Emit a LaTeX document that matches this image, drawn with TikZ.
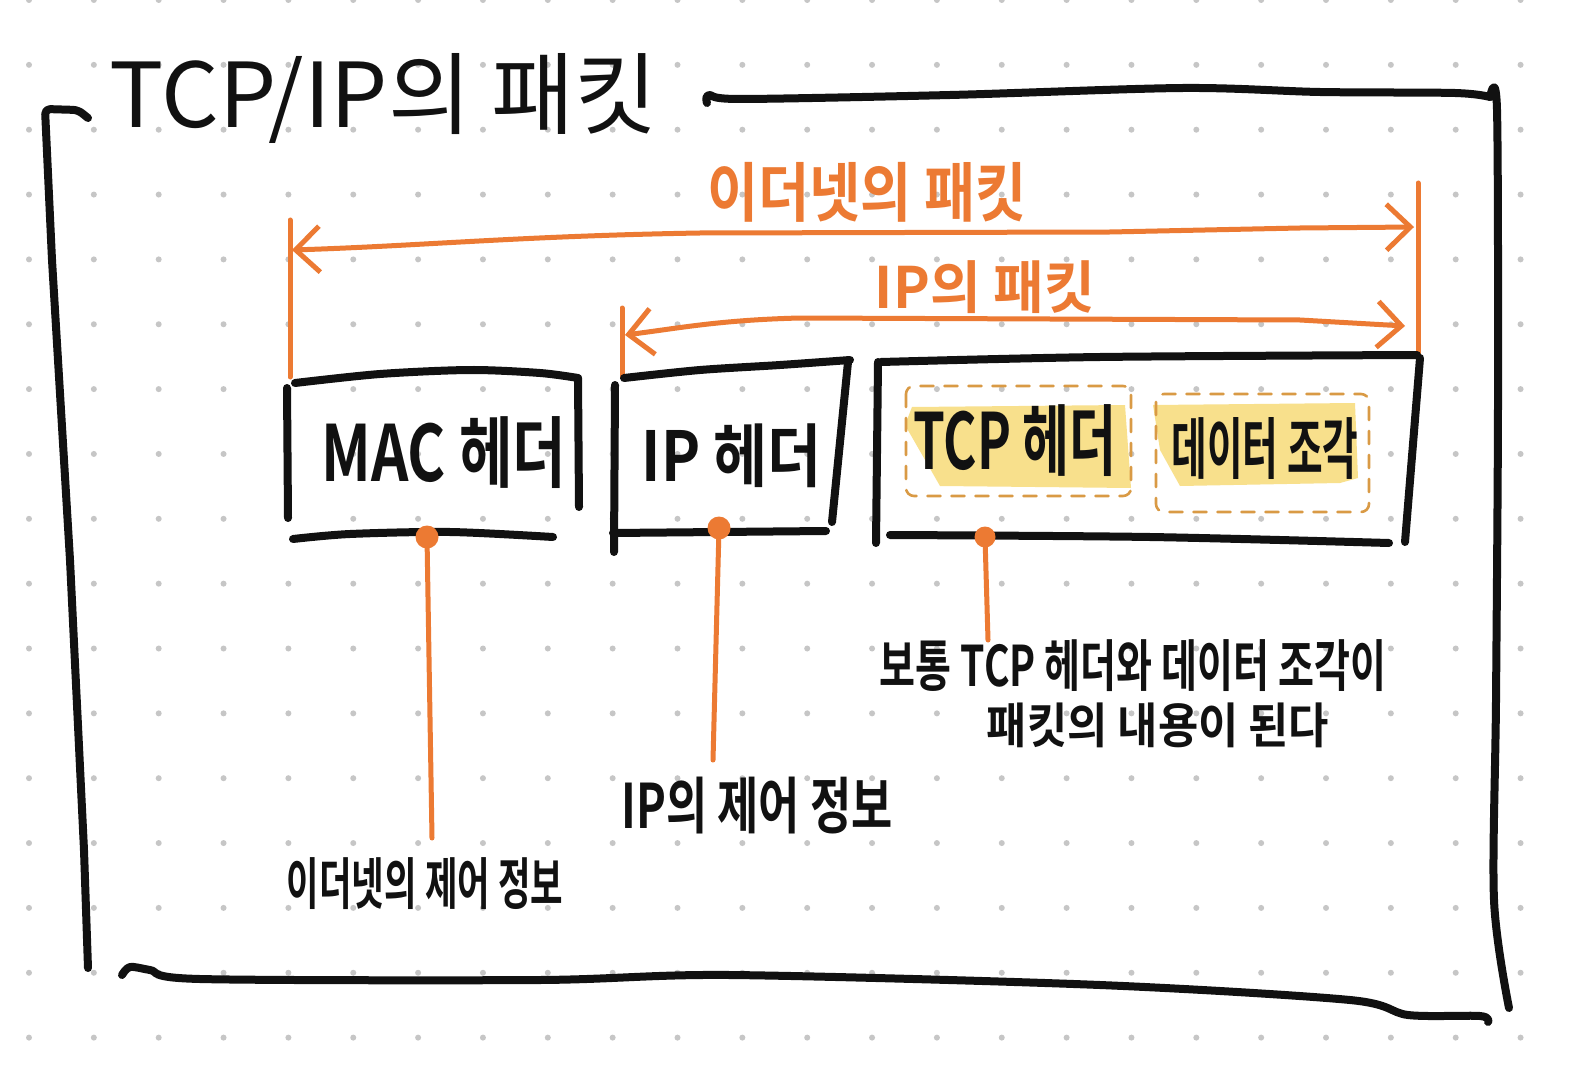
\documentclass[tikz,border=0pt]{standalone}
\usepackage{fontspec}
\setmainfont{Noto Sans CJK KR}[BoldFont={Noto Sans CJK KR Bold}]
\usepackage{graphicx}
\usetikzlibrary{arrows.meta}
\definecolor{ink}{HTML}{111111}
\definecolor{accent}{HTML}{EC7A33}
\definecolor{gridgray}{HTML}{C6C6C6}
\definecolor{hl}{HTML}{F8E08C}
\definecolor{dashc}{HTML}{D99A45}
\newcommand{\fitx}[3]{\resizebox*{#1}{#2}{#3}}
\begin{document}
\begin{tikzpicture}[x=1pt,y=-1pt,line cap=round,line join=round,
  stroke/.style={draw=ink,line width=8pt},
  ostroke/.style={draw=accent,line width=5pt},
  dbox/.style={draw=dashc,line width=2.6pt,dash pattern=on 13pt off 11pt,rounded corners=8pt},
  lbl/.style={inner sep=0pt,text=ink,font=\bfseries},
  olbl/.style={inner sep=0pt,text=accent,font=\bfseries},
  odot/.style={circle,fill=accent,inner sep=0pt,minimum size=23pt},
  barbs/.style={{Straight Barb[length=24pt,width=46pt]}-{Straight Barb[length=24pt,width=46pt]}}]
\fill[white] (0,0) rectangle (1576,1075);
\useasboundingbox (0,0) rectangle (1576,1075);
% dot grid
\foreach \i in {0,...,23}{\foreach \j in {0,...,16}{
  \fill[gridgray] ({29+64.85*\i},{64.85*\j}) circle (3pt);}}
% outer frame
\draw[stroke,rounded corners=5pt] (88,118) -- (78,110) -- (45,109) -- (52,260) -- (70,560) -- (84,850) -- (88,968);
\draw[stroke] plot[smooth,tension=0.5] coordinates {(707,103) (709,95) (740,99) (950,95) (1183,88) (1320,92) (1455,93) (1490,97)};
\draw[stroke] plot[smooth,tension=0.5] coordinates {(1490,97) (1497,110) (1498,400) (1496,700) (1494,900) (1509,1008)};
\draw[stroke] plot[smooth,tension=0.5] coordinates {(122,975) (130,967) (150,970) (200,979) (540,980) (730,975) (1100,985) (1350,1000) (1408,1015) (1480,1016) (1488,1022)};
% title
\node[lbl,font=\mdseries] (title) at (384,99) {\fitx{548pt}{90pt}{TCP/IP의 패킷}};
% orange measure arrows
\coordinate (t1top) at (290,220); \coordinate (t1bot) at (290,377);
\coordinate (t2top) at (1418,183); \coordinate (t2bot) at (1418,362);
\coordinate (t3top) at (622,308); \coordinate (t3bot) at (622,377);
\draw[ostroke] (t1top) -- (t1bot);
\draw[ostroke] (t2top) -- (t2bot);
\draw[ostroke] (t3top) -- (t3bot);
\coordinate (a1l) at (292,250); \coordinate (a1r) at (1414,227);
\coordinate (a2l) at (625,335); \coordinate (a2r) at (1405,326);
\draw[ostroke,barbs] (a1l) .. controls (420,246) and (520,236) .. (700,233) -- (1110,232) -- (1300,228) -- (a1r);
\draw[ostroke,barbs] (a2l) .. controls (680,328) and (720,320) .. (800,318) -- (1300,320) -- (a2r);
\node[olbl] (ethpkt) at (867,192) {\fitx{320pt}{60pt}{이더넷의 패킷}};
\node[olbl] (ippkt) at (985,287) {\fitx{220pt}{53pt}{IP의 패킷}};
% highlights
\fill[hl] (912,407) -- (1125,405) -- (1131,488) -- (940,486) -- (905,425) -- cycle;
\fill[hl] (1153,405) -- (1355,403) -- (1358,478) -- (1340,483) -- (1180,486) -- (1160,450) -- cycle;
\draw[dbox] (906,386) rectangle (1131,496);
\draw[dbox] (1156,394) rectangle (1369,512);
% MAC header box
\draw[stroke] plot[smooth,tension=0.5] coordinates {(295,383) (380,374) (470,370) (540,373) (578,378)};
\draw[stroke] (287,388) -- (288,518);
\draw[stroke] (578,378) -- (579,507);
\draw[stroke] plot[smooth,tension=0.5] coordinates {(293,539) (350,534) (450,532) (553,537)};
\node[lbl] (mac) at (444,453) {\fitx{245pt}{72pt}{MAC 헤더}};
% IP header box
\draw[stroke] plot[smooth,tension=0.5] coordinates {(624,378) (700,370) (780,365) (850,360)};
\draw[stroke] (615,385) -- (614,552);
\draw[stroke] (848,362) -- (832,522);
\draw[stroke] (613,533) -- (826,531);
\node[lbl] (iph) at (732,456) {\fitx{180pt}{64pt}{IP 헤더}};
% TCP + data box
\draw[stroke] plot[smooth,tension=0.5] coordinates {(881,362) (1100,357) (1417,355)};
\draw[stroke] (878,362) -- (876,543);
\draw[stroke] (1420,358) -- (1405,542);
\draw[stroke] plot[smooth,tension=0.5] coordinates {(890,535) (1150,537) (1389,543)};
\node[lbl] (tcph) at (1015,441) {\fitx{203pt}{72pt}{TCP 헤더}};
\node[lbl] (data) at (1265,449) {\fitx{187pt}{62pt}{데이터 조각}};
% dots and leaders
\node[odot] (macdot) at (427,537) {};
\node[odot] (ipdot) at (719,528) {};
\node[odot,minimum size=21pt] (tcpdot) at (985,537) {};
\coordinate (macend) at (432,838);
\coordinate (ipend) at (713,760);
\coordinate (tcpend) at (988,640);
\draw[ostroke] (macdot.center) -- (macend);
\draw[ostroke] (ipdot.center) -- (ipend);
\draw[ostroke] (tcpdot.center) -- (tcpend);
% labels
\node[lbl] (ethctl) at (425,884) {\fitx{276pt}{52pt}{이더넷의 제어 정보}};
\node[lbl] (ipctl) at (757,806) {\fitx{271pt}{57pt}{IP의 제어 정보}};
\node[lbl] (note1) at (1133,666) {\fitx{506pt}{52pt}{보통 TCP 헤더와 데이터 조각이}};
\node[lbl] (note2) at (1158,725) {\fitx{342pt}{45pt}{패킷의 내용이 된다}};
\end{tikzpicture}
\end{document}
